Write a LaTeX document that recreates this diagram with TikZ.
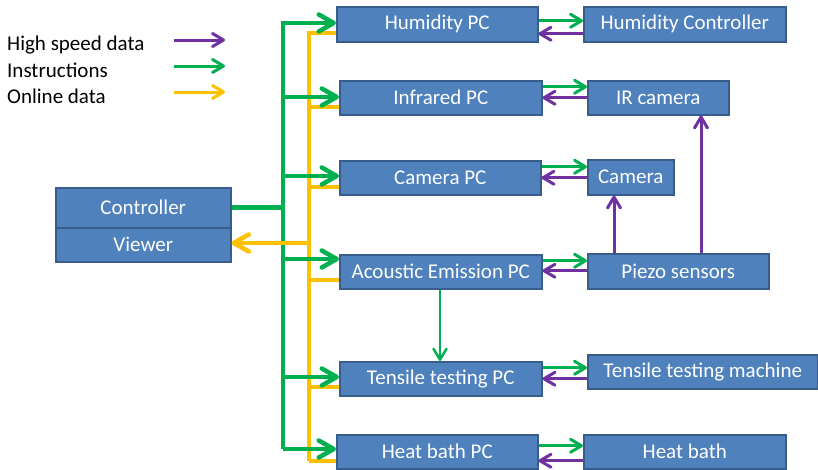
\documentclass[tikz,border=0pt]{standalone}
\usepackage{fontspec}
\setmainfont{Carlito}
\usetikzlibrary{arrows.meta,calc}
\definecolor{boxblue}{HTML}{4F81BD}
\definecolor{boxedge}{HTML}{385D8A}
\definecolor{grn}{HTML}{00B050}
\definecolor{pur}{HTML}{7030A0}
\definecolor{ylw}{HTML}{FFC000}
\pgfdeclarearrow{
  name = Chev,
  parameters = {\the\pgfarrowlength,\the\pgfarrowwidth},
  setup code = {
    \pgfarrowssettipend{0.5\pgflinewidth}
    \pgfarrowssetlineend{-0.7\pgflinewidth}
    \pgfarrowsupperhullpoint{-\pgfarrowlength}{0.5\pgfarrowwidth}
    \pgfarrowsupperhullpoint{0pt}{0pt}
    \pgfarrowssavethe\pgfarrowlength
    \pgfarrowssavethe\pgfarrowwidth
  },
  drawing code = {
    \pgfsetdash{}{0pt}
    \pgfsetroundcap
    \pgfsetroundjoin
    \pgfpathmoveto{\pgfqpoint{-\pgfarrowlength}{0.5\pgfarrowwidth}}
    \pgfpathlineto{\pgfqpoint{0pt}{0pt}}
    \pgfpathlineto{\pgfqpoint{-\pgfarrowlength}{-0.5\pgfarrowwidth}}
    \pgfusepathqstroke
  },
  defaults = {length=10pt, width=14pt}
}
\begin{document}
\begin{tikzpicture}[x=1pt,y=-1pt,
  box/.style={draw=boxedge, fill=boxblue, line width=1.5pt, text=white,
    font=\fontsize{21}{24}\selectfont, anchor=north west, inner sep=0pt},
  lbl/.style={anchor=west, inner sep=0pt, font=\fontsize{21}{24}\selectfont},
  bigtip/.style={-{Chev[length=15pt,width=17pt]}},
  smalltip/.style={-{Chev[length=11pt,width=13pt]}},
  gline/.style={draw=grn, line width=4.5pt},
  yline/.style={draw=ylw, line width=4.5pt},
  gsmall/.style={draw=grn, line width=3pt, smalltip},
  psmall/.style={draw=pur, line width=3pt, smalltip},
  legarrow/.style={line width=3pt, smalltip}
]
\useasboundingbox (0,0) rectangle (818,469);

% legend
\node[lbl] (l1) at (7,45) {High speed data};
\node[lbl] (l2) at (7,70) {Instructions};
\node[lbl] (l3) at (7,96) {Online data};
\coordinate (a1s) at (174,40); \coordinate (a1e) at (225,40);
\coordinate (a2s) at (174,66); \coordinate (a2e) at (225,66);
\coordinate (a3s) at (174,92); \coordinate (a3e) at (225,92);
\draw[legarrow, draw=pur] (a1s) -- (a1e);
\draw[legarrow, draw=grn] (a2s) -- (a2e);
\draw[legarrow, draw=ylw] (a3s) -- (a3e);

% trunks coordinates
\coordinate (gtop) at (283,23);
\coordinate (gbot) at (283,449);
\coordinate (ytop) at (309,33);
\coordinate (ybot) at (309,461);

% yellow lines (behind boxes)
\draw[yline] (ybot) -- (ytop) -- (336,33);
\draw[yline] (309,107) -- (339,107);
\draw[yline] (309,187) -- (339,187);
\draw[yline] (309,280) -- (339,280);
\draw[yline] (309,387) -- (339,387);
\draw[yline] (309,461) -- (336,461);

% boxes
\node[box, minimum width=175, minimum height=40] (ctrl) at (55,187) {Controller};
\node[box, minimum width=175, minimum height=34] (view) at (55,227) {Viewer};
\node[box, minimum width=201, minimum height=35] (hpc) at (336,6) {Humidity PC};
\node[box, minimum width=202, minimum height=35] (hc) at (583,6) {Humidity Controller};
\node[box, minimum width=202, minimum height=34] (ipc) at (339,80) {Infrared PC};
\node[box, minimum width=141, minimum height=34] (irc) at (587,80) {IR camera};
\node[box, minimum width=201, minimum height=34] (cpc) at (339,160) {Camera PC};
\node[box, minimum width=86, minimum height=35] (cam) at (587,159) {Camera};
\node[box, minimum width=202, minimum height=34] (aepc) at (339,254) {Acoustic Emission PC};
\node[box, minimum width=181, minimum height=35] (pz) at (587,253) {Piezo sensors};
\node[box, minimum width=202, minimum height=34] (tpc) at (339,361) {Tensile testing PC};
\node[box, minimum width=230, minimum height=34] (tm) at (587,354) {Tensile testing machine};
\node[box, minimum width=201, minimum height=34] (hbpc) at (336,434) {Heat bath PC};
\node[box, minimum width=202, minimum height=34] (hb) at (583,434) {Heat bath};

% green trunk and branches
\draw[gline, bigtip] (gbot) -- (gtop) -- (hpc.west |- gtop);
\draw[gline, bigtip] (283,97) -- (ipc.west |- 0,97);
\draw[gline, bigtip] (283,176) -- (cpc.west |- 0,176);
\draw[gline, bigtip] (283,259) -- (aepc.west |- 0,259);
\draw[gline, bigtip] (283,377) -- (tpc.west |- 0,377);
\draw[gline, bigtip] (gbot) -- (hbpc.west |- gbot);
\draw[draw=grn, line width=5pt] (ctrl.east) -- (ctrl.east -| gtop);

% yellow to viewer
\draw[yline, bigtip] (ytop |- 0,243) -- (view.east |- 0,243);

% right side pairs
\draw[gsmall] ($(hpc.east)+(0,-3.5)$) -- ($(hc.west)+(0,-3.5)$);
\draw[psmall] ($(hc.west)+(0,9.5)$) -- ($(hpc.east)+(0,9.5)$);
\draw[gsmall] ($(ipc.east)+(0,-11)$) -- ($(irc.west)+(0,-11)$);
\draw[psmall] ($(irc.west)+(0,0)$) -- ($(ipc.east)+(0,0)$);
\draw[gsmall] ($(cpc.east)+(0,-11)$) -- ($(cam.west)+(0,-10.5)$);
\draw[psmall] ($(cam.west)+(0,0.5)$) -- ($(cpc.east)+(0,0)$);
\draw[gsmall] ($(aepc.east)+(0,-11)$) -- ($(pz.west)+(0,-10.5)$);
\draw[psmall] ($(pz.west)+(0,-0.5)$) -- ($(aepc.east)+(0,-1)$);
\draw[gsmall] ($(tpc.east)+(0,-11)$) -- ($(tm.west)+(0,-4)$);
\draw[psmall] ($(tm.west)+(0,7)$) -- ($(tpc.east)+(0,0)$);
\draw[gsmall] ($(hbpc.east)+(0,-6)$) -- ($(hb.west)+(0,-6)$);
\draw[psmall] ($(hb.west)+(0,9)$) -- ($(hbpc.east)+(0,9)$);

% verticals
\draw[psmall] (pz.north -| 614,0) -- (cam.south -| 614,0);
\draw[psmall] (pz.north -| 701,0) -- (irc.south -| 701,0);
\draw[draw=grn, line width=2.5pt, smalltip] (aepc.south -| 440,0) -- (tpc.north -| 440,0);
\end{tikzpicture}
\end{document}
